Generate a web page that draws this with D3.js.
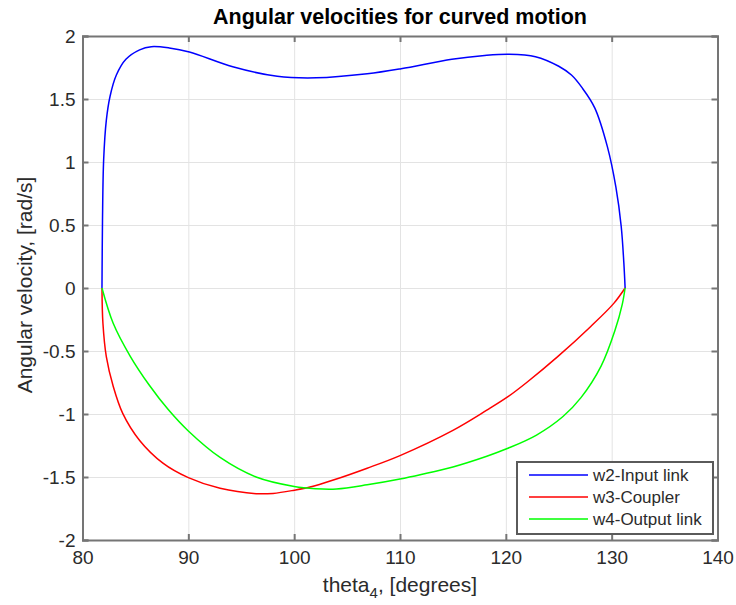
<!DOCTYPE html>
<html>
<head>
<meta charset="utf-8">
<script src="https://cdn.jsdelivr.net/npm/d3@7"></script>
<style>
  html, body { margin: 0; padding: 0; background: #fff; }
  svg { display: block; font-family: "Liberation Sans", Arial, Helvetica, sans-serif; }
  .tick text { fill: #2b2b2b; font-size: 19px; }
  .grid line { stroke: #e3e3e3; stroke-width: 1; }
  .grid path { display: none; }
  .frame path, .frame line { stroke: #757575; stroke-width: 2; }
</style>
</head>
<body>
<svg id="chart" width="736" height="605"></svg>
<script>
/* angular velocities vs theta4 — MATLAB-style plot redrawn with d3 */
(function () {
  var W = 736, H = 605;
  var M = { top: 36, right: 18.5, bottom: 65, left: 82.5 };
  var iw = W - M.left - M.right, ih = H - M.top - M.bottom;

  // ----- data -----
  var xTicks = [80, 90, 100, 110, 120, 130, 140];
  var yTicks = [-2, -1.5, -1, -0.5, 0, 0.5, 1, 1.5, 2];

  var w2Theta = [81.84, 81.86, 81.89, 82.0, 82.25, 82.6, 83.2, 84.1, 85.4, 86.5, 88.2, 90.1, 94.2, 98.4, 102.1, 106.9, 110.1, 114.9, 118.0, 120.3, 122.8, 125.0, 126.2, 127.2, 128.4, 129.6, 130.4, 130.9, 131.15, 131.27];
  var w2Vals  = [0, 0.25, 0.54, 1.02, 1.33, 1.52, 1.69, 1.815, 1.89, 1.915, 1.905, 1.873, 1.756, 1.68, 1.668, 1.70, 1.74, 1.815, 1.845, 1.855, 1.836, 1.76, 1.69, 1.59, 1.43, 1.12, 0.80, 0.49, 0.20, 0];

  var w3Theta = [81.84, 81.93, 82.25, 82.9, 83.8, 85.4, 87.6, 90.0, 93.0, 96.4, 98.0, 100.0, 101.5, 103.7, 106.9, 110.0, 115.0, 118.2, 120.2, 122.0, 124.9, 128.0, 130.2, 131.27];
  var w3Vals  = [0, -0.28, -0.545, -0.78, -0.995, -1.21, -1.39, -1.505, -1.59, -1.632, -1.63, -1.605, -1.58, -1.524, -1.43, -1.33, -1.13, -0.97, -0.863, -0.748, -0.545, -0.307, -0.122, 0];

  var w4Theta = [81.84, 82.9, 84.5, 86.3, 88.1, 90.0, 93.0, 96.4, 100.0, 102.0, 104.0, 106.9, 110.0, 112.0, 115.0, 118.2, 120.2, 122.9, 125.4, 127.1, 129.0, 130.3, 131.0, 131.27];
  var w4Vals  = [0, -0.28, -0.54, -0.77, -0.965, -1.135, -1.345, -1.50, -1.575, -1.593, -1.595, -1.562, -1.516, -1.48, -1.42, -1.335, -1.272, -1.167, -1.02, -0.87, -0.62, -0.34, -0.13, 0];

  var seriesNames = ['w2-Input link', 'w3-Coupler', 'w4-Output link'];
  var seriesColors = ['#0000ff', '#ff0000', '#00ff00'];

  function zip(xs, ys) { return xs.map(function (x, i) { return [x, ys[i]]; }); }
  var series = [zip(w2Theta, w2Vals), zip(w3Theta, w3Vals), zip(w4Theta, w4Vals)];

  // ----- scales -----
  var x = d3.scaleLinear().domain([80, 140]).range([0, iw]);
  var y = d3.scaleLinear().domain([-2, 2]).range([ih, 0]);

  var svg = d3.select('#chart');
  var g = svg.append('g').attr('transform', 'translate(' + M.left + ',' + M.top + ')');

  // grid
  g.append('g').attr('class', 'grid').attr('transform', 'translate(0,' + ih + ')')
    .call(d3.axisBottom(x).tickValues(xTicks).tickSize(-ih).tickFormat(''));
  g.append('g').attr('class', 'grid')
    .call(d3.axisLeft(y).tickValues(yTicks).tickSize(-iw).tickFormat(''));

  // curves
  var line = d3.line()
    .x(function (d) { return x(d[0]); })
    .y(function (d) { return y(d[1]); })
    .curve(d3.curveCatmullRom.alpha(0.5));
  g.append('g').selectAll('path').data(series).enter().append('path')
    .attr('d', line)
    .attr('fill', 'none')
    .attr('stroke', function (d, i) { return seriesColors[i]; })
    .attr('stroke-width', 1.5);

  // frame with inward ticks on every side
  var TK = 6;
  g.append('g').attr('class', 'frame').attr('transform', 'translate(0,' + ih + ')')
    .call(d3.axisBottom(x).tickValues(xTicks).tickSize(-TK).tickPadding(11).tickFormat(d3.format('d')));
  g.append('g').attr('class', 'frame')
    .call(d3.axisLeft(y).tickValues(yTicks).tickSize(-TK).tickPadding(7).tickFormat(function (v) { return String(v); }));
  g.append('g').attr('class', 'frame')
    .call(d3.axisTop(x).tickValues(xTicks).tickSize(-TK).tickFormat(''));
  g.append('g').attr('class', 'frame').attr('transform', 'translate(' + iw + ',0)')
    .call(d3.axisRight(y).tickValues(yTicks).tickSize(-TK).tickFormat(''));
  g.selectAll('.frame .domain').attr('stroke', '#757575');
  g.selectAll('.frame .tick line').attr('stroke', '#757575');

  // title + axis labels
  svg.append('text').attr('x', M.left + iw / 2).attr('y', 24)
    .attr('text-anchor', 'middle').attr('font-size', 21.5).attr('font-weight', 'bold').attr('fill', '#000')
    .text('Angular velocities for curved motion');

  var xl = svg.append('text').attr('x', M.left + iw / 2).attr('y', 592)
    .attr('text-anchor', 'middle').attr('font-size', 21).attr('fill', '#2b2b2b');
  xl.append('tspan').text('theta');
  xl.append('tspan').attr('font-size', 15).attr('dy', 6).text('4');
  xl.append('tspan').attr('dy', -6).text(', [degrees]');

  svg.append('text').attr('transform', 'translate(32,' + (M.top + ih / 2 - 3) + ') rotate(-90)')
    .attr('text-anchor', 'middle').attr('font-size', 21).attr('fill', '#2b2b2b')
    .text('Angular velocity, [rad/s]');

  // legend
  var lg = svg.append('g').attr('transform', 'translate(517,462)');
  lg.append('rect').attr('width', 196).attr('height', 72)
    .attr('fill', '#fff').attr('stroke', '#5a5a5a').attr('stroke-width', 2);
  var row = lg.selectAll('g.row').data(seriesNames).enter().append('g').attr('class', 'row')
    .attr('transform', function (d, i) { return 'translate(0,' + (13 + i * 22) + ')'; });
  row.append('line').attr('x1', 12).attr('x2', 71)
    .attr('stroke', function (d, i) { return seriesColors[i]; }).attr('stroke-width', 1.5);
  row.append('text').attr('x', 76).attr('dy', '0.35em').attr('font-size', 17).attr('fill', '#2b2b2b')
    .text(function (d) { return d; });
})();
</script>
</body>
</html>
